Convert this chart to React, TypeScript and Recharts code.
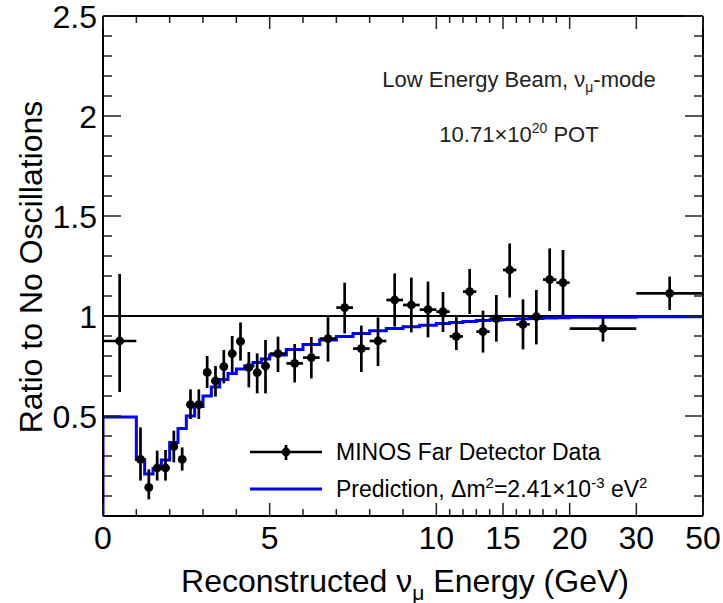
import { ComposedChart, XAxis, YAxis, Line, Scatter, ErrorBar, ReferenceLine } from 'recharts';

// bin edges in GeV, shared by data and prediction
const binEdges = [
    0, 1, 1.25, 1.5, 1.75, 2, 2.25, 2.5, 2.75, 3, 3.25, 3.5, 3.75, 4, 4.25, 4.5, 4.75, 5,
    5.5, 6, 6.5, 7, 7.5, 8, 8.5, 9, 9.5, 10,
    11, 12, 13, 14, 15, 16, 17, 18, 19, 20, 30, 50,
];

// MINOS far detector data / no-oscillation ratio, per bin
const dataRatio = [
    0.875, 0.283, 0.143, 0.24, 0.24, 0.348, 0.283, 0.557, 0.557, 0.718, 0.675, 0.747, 0.812, 0.873, 0.743, 0.717, 0.75,
    0.812, 0.763, 0.792, 0.887, 1.042, 0.837, 0.875, 1.08, 1.055, 1.032,
    1.022, 0.898, 1.122, 0.922, 0.987, 1.23, 0.958, 0.997, 1.182, 1.167, 0.937, 1.113,
];
// upper and lower ends of the error bars
const dataHigh = [
    1.21, 0.443, 0.233, 0.327, 0.33, 0.427, 0.343, 0.633, 0.633, 0.8, 0.75, 0.83, 0.9, 0.968, 0.82, 0.813, 0.88,
    0.897, 0.86, 0.895, 1.0, 1.167, 0.952, 0.993, 1.213, 1.192, 1.172,
    1.12, 0.997, 1.235, 1.027, 1.105, 1.363, 1.083, 1.13, 1.338, 1.33, 0.997, 1.197,
];
const dataLow = [
    0.62, 0.177, 0.083, 0.177, 0.177, 0.268, 0.227, 0.485, 0.485, 0.64, 0.597, 0.663, 0.72, 0.777, 0.643, 0.613, 0.613,
    0.72, 0.668, 0.688, 0.772, 0.913, 0.72, 0.75, 0.947, 0.918, 0.893,
    0.92, 0.83, 1.01, 0.817, 0.872, 1.092, 0.833, 0.858, 1.025, 1.0, 0.872, 1.03,
];

// prediction, dm2 = 2.41e-3 eV2
const predRatio = [
    0.495, 0.283, 0.21, 0.238, 0.28, 0.367, 0.438, 0.5, 0.548, 0.6, 0.645, 0.683, 0.712, 0.735, 0.75, 0.768, 0.785,
    0.805, 0.832, 0.858, 0.88, 0.898, 0.913, 0.926, 0.937, 0.946, 0.954,
    0.962, 0.968, 0.973, 0.977, 0.98, 0.983, 0.986, 0.988, 0.99, 0.991, 0.994, 0.996,
];

const xMajor = [0, 5, 10, 15, 20, 30, 50];
const xMinor = [1, 2, 3, 4, 6, 7, 8, 9, 11, 12, 13, 14, 16, 17, 18, 19];
const yMajor = [0.5, 1, 1.5, 2, 2.5];
const yMinor = [0.1, 0.2, 0.3, 0.4, 0.6, 0.7, 0.8, 0.9, 1.1, 1.2, 1.3, 1.4, 1.6, 1.7, 1.8, 1.9, 2.1, 2.2, 2.3, 2.4];

// the x axis is linear to 10 GeV, then compressed piecewise
const toAxis = (e: number) => {
    if (e <= 10) return e;
    if (e <= 20) return 10 + (e - 10) * 0.4;
    if (e <= 30) return 14 + (e - 20) * 0.2;
    return 16 + (e - 30) * 0.1;
};

const points = dataRatio.map((r, i) => {
    const lo = toAxis(binEdges[i]);
    const hi = toAxis(binEdges[i + 1]);
    const x = (lo + hi) / 2;
    return { x, y: r, xErr: [x - lo, hi - x], yErr: [r - dataLow[i], dataHigh[i] - r] };
});

const predSteps = [
    { x: 0, pred: 0 },
    ...binEdges.map((e, i) => ({ x: toAxis(e), pred: predRatio[Math.min(i, predRatio.length - 1)] })),
];

const xTicks = [...xMajor, ...xMinor].map(toAxis);
const yTicks = [...yMinor, ...yMajor];

const FONT = '"Liberation Sans", Arial, Helvetica, sans-serif';
const TICK = '#222';
const TICK_FONT = 32;

const xLabel = (v: number) => {
    const i = xMajor.findIndex(e => Math.abs(toAxis(e) - v) < 1e-6);
    return i >= 0 ? String(xMajor[i]) : null;
};
const isYMajor = (v: number) => yMajor.some(m => Math.abs(m - v) < 1e-6);

function BottomTick(props: any) {
    const { x, y, payload } = props;
    const label = xLabel(payload.value);
    return (
        <g>
            <line x1={x} x2={x} y1={y} y2={y - (label ? 13 : 7)} stroke={TICK} strokeWidth={1.5} />
            {label && (
                <text x={x} y={y + 33} textAnchor="middle" fontSize={TICK_FONT} fontFamily={FONT} fill="#000">{label}</text>
            )}
        </g>
    );
}

function TopTick(props: any) {
    const { x, y, payload } = props;
    const label = xLabel(payload.value);
    return <line x1={x} x2={x} y1={y} y2={y + (label ? 13 : 7)} stroke={TICK} strokeWidth={1.5} />;
}

function LeftTick(props: any) {
    const { x, y, payload } = props;
    const major = isYMajor(payload.value);
    return (
        <g>
            <line x1={x} x2={x + (major ? 18 : 9)} y1={y} y2={y} stroke={TICK} strokeWidth={1.5} />
            {major && (
                <text x={x - 6} y={y} dy="0.36em" textAnchor="end" fontSize={TICK_FONT} fontFamily={FONT} fill="#000">
                    {String(payload.value)}
                </text>
            )}
        </g>
    );
}

function RightTick(props: any) {
    const { x, y, payload } = props;
    const major = isYMajor(payload.value);
    return <line x1={x} x2={x - (major ? 18 : 9)} y1={y} y2={y} stroke={TICK} strokeWidth={1.5} />;
}

const Marker = (props: any) => <circle cx={props.cx} cy={props.cy} r={4.4} fill="#000" />;

const W = 723;
const H = 603;
const frame = { stroke: '#000', strokeWidth: 2 };

export default function App() {
    return (
        <div style={{ position: 'absolute', left: 0, top: 0, width: W, height: H, background: '#fff' }}>
            <ComposedChart width={W} height={H} margin={{ top: 15, right: 19, bottom: 86, left: 102 }}>
                <XAxis xAxisId="b" dataKey="x" type="number" domain={[0, 18]} ticks={xTicks} interval={0}
                    height={1} tickSize={0} tickMargin={0} tickLine={false} axisLine={frame} tick={<BottomTick />} allowDataOverflow />
                <XAxis xAxisId="t" orientation="top" dataKey="x" type="number" domain={[0, 18]} ticks={xTicks} interval={0}
                    height={1} tickSize={0} tickMargin={0} tickLine={false} axisLine={frame} tick={<TopTick />} allowDataOverflow />
                <YAxis yAxisId="l" type="number" domain={[0, 2.5]} ticks={yTicks} interval={0}
                    width={1} tickSize={0} tickMargin={0} tickLine={false} axisLine={frame} tick={<LeftTick />} allowDataOverflow />
                <YAxis yAxisId="r" orientation="right" type="number" domain={[0, 2.5]} ticks={yTicks} interval={0}
                    width={1} tickSize={0} tickMargin={0} tickLine={false} axisLine={frame} tick={<RightTick />} allowDataOverflow />

                <ReferenceLine xAxisId="b" yAxisId="l" y={1} stroke="#000" strokeWidth={1.8} />

                <Line xAxisId="b" yAxisId="l" data={predSteps} dataKey="pred" type="stepAfter" stroke="#0000ff"
                    strokeWidth={3} dot={false} activeDot={false} isAnimationActive={false} />

                <Scatter xAxisId="b" yAxisId="l" data={points} dataKey="y" shape={<Marker />} isAnimationActive={false}>
                    <ErrorBar dataKey="yErr" direction="y" width={0} stroke="#000" strokeWidth={2.7} isAnimationActive={false} />
                    <ErrorBar dataKey="xErr" direction="x" width={0} stroke="#000" strokeWidth={2.7} isAnimationActive={false} />
                </Scatter>
            </ComposedChart>

            <svg width={W} height={H} style={{ position: 'absolute', left: 0, top: 0, pointerEvents: 'none' }} fontFamily={FONT}>
                {/* axis titles */}
                <text x={405} y={592} textAnchor="middle" fontSize={32} fill="#000">
                    Reconstructed ν<tspan fontSize={21} dy={8}>μ</tspan><tspan dy={-8}> Energy (GeV)</tspan>
                </text>
                <text transform="rotate(-90 42 267)" x={42} y={267} textAnchor="middle" fontSize={32} fill="#000">
                    Ratio to No Oscillations
                </text>

                {/* annotations */}
                <text x={519} y={87} textAnchor="middle" fontSize={22} fill="#222">
                    Low Energy Beam, ν<tspan fontSize={14} dy={5}>μ</tspan><tspan dy={-5}>-mode</tspan>
                </text>
                <text x={519} y={142} textAnchor="middle" fontSize={22} fill="#222">
                    10.71×10<tspan fontSize={14} dy={-9}>20</tspan><tspan dy={9}> POT</tspan>
                </text>

                {/* legend */}
                <line x1={250} x2={322} y1={452} y2={452} stroke="#000" strokeWidth={2.7} />
                <line x1={286} x2={286} y1={445} y2={460} stroke="#000" strokeWidth={2.7} />
                <circle cx={286} cy={452} r={4.4} fill="#000" />
                <text x={336} y={452} dy="0.36em" fontSize={23} fill="#000">MINOS Far Detector Data</text>
                <line x1={250} x2={322} y1={489} y2={489} stroke="#0000ff" strokeWidth={3} />
                <text x={336} y={489} dy="0.36em" fontSize={23} fill="#000">
                    Prediction, Δm<tspan fontSize={15} dy={-9}>2</tspan><tspan dy={9}>=2.41×10</tspan>
                    <tspan fontSize={15} dy={-9}>-3</tspan><tspan dy={9}> eV</tspan><tspan fontSize={15} dy={-9}>2</tspan>
                </text>
            </svg>
        </div>
    );
}
